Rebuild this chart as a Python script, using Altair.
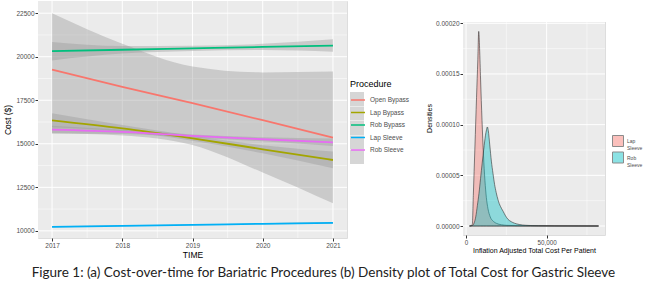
import altair as alt
import pandas as pd

# ---------------- data: panel (a) ----------------
years = [2017, 2018, 2019, 2020, 2021]
procedures = ["Open Bypass", "Lap Bypass", "Rob Bypass", "Lap Sleeve", "Rob Sleeve"]
proc_colors = ["#F8766D", "#A3A500", "#00BF7D", "#00B0F6", "#E76BF3"]

open_bypass_fit = [19265, 18270, 17330, 16355, 15360]
open_bypass_lo = [15600, 15480, 14930, 13350, 11580]
open_bypass_hi = [22500, 20750, 19440, 19100, 19150]

lap_bypass_fit = [16350, 15890, 15316, 14684, 14069]
lap_bypass_lo = [15950, 15700, 15170, 14450, 13590]
lap_bypass_hi = [16750, 16080, 15460, 14920, 14560]

rob_bypass_fit = [20318, 20400, 20480, 20560, 20643]
rob_bypass_lo = [19790, 20180, 20330, 20380, 20280]
rob_bypass_hi = [20850, 20620, 20630, 20740, 21000]

lap_sleeve_fit = [10230, 10290, 10345, 10405, 10460]
lap_sleeve_lo = [10190, 10260, 10320, 10375, 10415]
lap_sleeve_hi = [10270, 10320, 10370, 10435, 10505]

rob_sleeve_fit = [15810, 15680, 15450, 15260, 15086]
rob_sleeve_lo = [15590, 15560, 15360, 15140, 14870]
rob_sleeve_hi = [16040, 15800, 15540, 15380, 15310]

cost_ticks = [10000, 12500, 15000, 17500, 20000, 22500]
cost_minor = [11250, 13750, 16250, 18750, 21250]
year_minor = [2017.5, 2018.5, 2019.5, 2020.5]

# ---------------- data: panel (b) ----------------
density_groups = ["Lap Sleeve", "Rob Sleeve"]
density_colors = ["#F8766D", "#00BFC4"]

lap_cost = [2140, 3200, 3900, 4500, 5500, 6500, 7300, 7850, 8400, 9000, 9900, 10800,
            11700, 12600, 13600, 15000, 17000, 19000, 22000, 26000, 32000, 40000,
            55000, 70000, 82200]
lap_density = [0, 0.0000003, 0.000002, 0.00003, 0.000078, 0.000127, 0.000164, 0.000192,
               0.000175, 0.000145, 0.000104, 0.00007, 0.000045, 0.000028, 0.000017,
               0.000009, 0.0000045, 0.0000025, 0.0000012, 0.0000006, 0.0000003,
               0.0000002, 0.0000001, 0.00000005, 0]

rob_cost = [2140, 4000, 5000, 6000, 7000, 8000, 9000, 10000, 11000, 12000, 12700, 13200,
            13800, 14700, 15700, 16700, 17700, 18700, 19800, 20600, 21300, 22100, 23000,
            24500, 26000, 28000, 30000, 33000, 37000, 45000, 60000, 82200]
rob_density = [0, 0.0000005, 0.000003, 0.000009, 0.00002, 0.000032, 0.000047, 0.000062,
               0.000076, 0.000089, 0.000095, 0.0000977, 0.000094, 0.00008, 0.000064,
               0.000052, 0.000041, 0.000033, 0.000026, 0.000022, 0.0000195, 0.000017,
               0.0000145, 0.00001, 0.0000066, 0.0000043, 0.0000028, 0.0000015,
               0.0000007, 0.0000003, 0.0000001, 0]

density_ticks = [0, 0.00005, 0.0001, 0.00015, 0.0002]
density_minor = [0.000025, 0.000075, 0.000125, 0.000175]
cost_x_ticks = [0, 50000]
cost_x_minor = [25000, 75000]

caption = ("Figure 1: (a) Cost-over-time for Bariatric Procedures "
           "(b) Density plot of Total Cost for Gastric Sleeve")

# ---------------- tables ----------------
series = {
    "Open Bypass": (open_bypass_fit, open_bypass_lo, open_bypass_hi),
    "Lap Bypass": (lap_bypass_fit, lap_bypass_lo, lap_bypass_hi),
    "Rob Bypass": (rob_bypass_fit, rob_bypass_lo, rob_bypass_hi),
    "Lap Sleeve": (lap_sleeve_fit, lap_sleeve_lo, lap_sleeve_hi),
    "Rob Sleeve": (rob_sleeve_fit, rob_sleeve_lo, rob_sleeve_hi),
}
rows = []
for p in procedures:
    fit, lo, hi = series[p]
    for i, yr in enumerate(years):
        rows.append({"Procedure": p, "year": yr, "cost": fit[i], "lo": lo[i], "hi": hi[i]})
df_a = pd.DataFrame(rows)

df_b = pd.concat([
    pd.DataFrame({"group": "Lap Sleeve", "x": lap_cost, "d": lap_density}),
    pd.DataFrame({"group": "Rob Sleeve", "x": rob_cost, "d": rob_density}),
], ignore_index=True)

FONT = "Liberation Sans"
LAB = "#4D4D4D"
TCK = "#333333"
PANEL = "#EBEBEB"

# ---------------- panel (a) ----------------
W_A, H_A = 309, 237
x_scale_a = alt.Scale(domain=[2016.8, 2021.2], nice=False, zero=False)
y_scale_a = alt.Scale(domain=[9590, 23200], nice=False, zero=False)
x_axis_a = alt.Axis(values=years, format="d", title="TIME", grid=False,
                    domain=False, tickSize=3, tickColor=TCK, labelFontSize=6.5,
                    labelColor=LAB, labelFont=FONT, labelPadding=1, titleFont=FONT,
                    titleFontSize=8.5, titleFontWeight="normal", titleColor="black",
                    titlePadding=2)
y_axis_a = alt.Axis(values=cost_ticks, format="d", title="Cost ($)", grid=False,
                    domain=False, tickSize=3, tickColor=TCK,
                    labelFontSize=6.5, labelColor=LAB, labelFont=FONT, labelPadding=1,
                    titleFont=FONT, titleFontSize=8.5, titleFontWeight="normal",
                    titleColor="black", titlePadding=3)

panel_a = alt.Chart(pd.DataFrame({"k": [0]})).mark_rect(color=PANEL).encode(
    x=alt.value(0), x2=alt.value(W_A), y=alt.value(0), y2=alt.value(H_A))


def vrules(values, width, scale, axis):
    return alt.Chart(pd.DataFrame({"year": values})).mark_rule(
        color="white", strokeWidth=width).encode(
        x=alt.X("year:Q", scale=scale, axis=axis))


def hrules(values, width, scale, axis):
    return alt.Chart(pd.DataFrame({"cost": values})).mark_rule(
        color="white", strokeWidth=width).encode(
        y=alt.Y("cost:Q", scale=scale, axis=axis))


grid_a = [
    vrules(year_minor, 0.5, x_scale_a, x_axis_a),
    hrules(cost_minor, 0.5, y_scale_a, y_axis_a),
    vrules(years, 1, x_scale_a, x_axis_a),
    hrules(cost_ticks, 1, y_scale_a, y_axis_a),
]

bands = alt.Chart(df_a).mark_area(opacity=0.4, interpolate="monotone").encode(
    x=alt.X("year:Q", scale=x_scale_a, axis=x_axis_a),
    y=alt.Y("lo:Q", scale=y_scale_a, axis=y_axis_a, stack=None),
    y2="hi:Q",
    fill=alt.Fill("Procedure:N", sort=procedures,
                  scale=alt.Scale(domain=procedures, range=["#999999"] * 5),
                  legend=alt.Legend(orient="none", legendX=312, legendY=79,
                                    title=" ", titleFontSize=9, titleFont=FONT,
                                    titleFontWeight="normal", titlePadding=3,
                                    labelFontSize=6.5, labelFont=FONT, labelOffset=4,
                                    labelExpr="' '",
                                    symbolType="square", symbolSize=196,
                                    symbolStrokeWidth=0, rowPadding=0.5, padding=0)),
    detail="Procedure:N",
)

lines = alt.Chart(df_a).mark_line(strokeWidth=1.8, interpolate="monotone").encode(
    x=alt.X("year:Q", scale=x_scale_a, axis=x_axis_a),
    y=alt.Y("cost:Q", scale=y_scale_a, axis=y_axis_a),
    stroke=alt.Stroke("Procedure:N", sort=procedures,
                      scale=alt.Scale(domain=procedures, range=proc_colors),
                      legend=alt.Legend(orient="none", legendX=312, legendY=79,
                                        title="Procedure", titleFontSize=9, titleFont=FONT,
                                        titleFontWeight="normal", titleColor="black",
                                        titlePadding=3, labelFontSize=6.5, labelFont=FONT,
                                        labelColor=LAB, labelOffset=4,
                                        symbolType="stroke", symbolSize=196,
                                        symbolStrokeWidth=1.5, rowPadding=0.5, padding=0)),
)

left = alt.layer(panel_a, *grid_a, bands, lines).resolve_scale(
    fill="independent", stroke="independent").properties(width=W_A, height=H_A)

# ---------------- panel (b) ----------------
W_B, H_B = 142, 234
TOP_B = 21
x_scale_b = alt.Scale(domain=[-1900, 86200], nice=False, zero=False)
y_scale_b = alt.Scale(domain=[-0.00000888, 0.000222], nice=False, zero=False)
x_axis_b = alt.Axis(values=cost_x_ticks, format=",d",
                    title="Inflation Adjusted Total Cost Per Patient",
                    grid=False, domain=False, tickSize=3, tickColor=TCK, labelFontSize=6.3,
                    labelColor=LAB, labelFont=FONT, labelPadding=1, titleFont=FONT,
                    titleFontSize=7, titleFontWeight="normal", titleColor="black",
                    titlePadding=1)
y_axis_b = alt.Axis(values=density_ticks, format=".5f", title="Densities", grid=False,
                    domain=False, tickSize=3, tickColor=TCK, labelFontSize=6.5,
                    labelColor=LAB, labelFont=FONT, labelPadding=1, titleFont=FONT,
                    titleFontSize=7, titleFontWeight="normal", titleColor="black",
                    titlePadding=3)

panel_b = alt.Chart(pd.DataFrame({"k": [0]})).mark_rect(color=PANEL).encode(
    x=alt.value(0), x2=alt.value(W_B), y=alt.value(TOP_B), y2=alt.value(H_B))
mask_b = alt.Chart(pd.DataFrame({"k": [0]})).mark_rect(color="white").encode(
    x=alt.value(-1.5), x2=alt.value(W_B + 1.5), y=alt.value(-0.5), y2=alt.value(TOP_B))

grid_x_major = alt.Chart(pd.DataFrame({"x": cost_x_ticks})).mark_rule(
    color="white", strokeWidth=1).encode(
    x=alt.X("x:Q", scale=x_scale_b, axis=x_axis_b), y=alt.value(TOP_B), y2=alt.value(H_B))
grid_x_minor = alt.Chart(pd.DataFrame({"x": cost_x_minor})).mark_rule(
    color="white", strokeWidth=0.5).encode(
    x=alt.X("x:Q", scale=x_scale_b, axis=x_axis_b), y=alt.value(TOP_B), y2=alt.value(H_B))
grid_y_major = alt.Chart(pd.DataFrame({"d": density_ticks})).mark_rule(
    color="white", strokeWidth=1).encode(
    y=alt.Y("d:Q", scale=y_scale_b, axis=y_axis_b), x=alt.value(0), x2=alt.value(W_B))
grid_y_minor = alt.Chart(pd.DataFrame({"d": density_minor})).mark_rule(
    color="white", strokeWidth=0.5).encode(
    y=alt.Y("d:Q", scale=y_scale_b, axis=y_axis_b), x=alt.value(0), x2=alt.value(W_B))

dens = alt.Chart(df_b).mark_area(fillOpacity=0.4, stroke="#333333", strokeWidth=0.6,
                                 interpolate="monotone").encode(
    x=alt.X("x:Q", scale=x_scale_b, axis=x_axis_b),
    y=alt.Y("d:Q", scale=y_scale_b, axis=y_axis_b, stack=None),
    fill=alt.Fill("group:N", sort=density_groups,
                  scale=alt.Scale(domain=density_groups, range=density_colors),
                  legend=alt.Legend(orient="none", legendX=149, legendY=134, title=None,
                                    labelFontSize=5, labelFont=FONT, labelColor=LAB,
                                    labelOffset=3, labelExpr="split(datum.label, ' ')",
                                    symbolType="square", symbolSize=121,
                                    symbolOpacity=0.45,
                                    symbolStrokeColor="#000000", symbolStrokeWidth=1,
                                    rowPadding=-1.5, padding=0)),
)

right = alt.layer(panel_b, grid_x_minor, grid_y_minor, grid_x_major, grid_y_major,
                  dens, mask_b).properties(width=W_B, height=H_B)

chart = alt.hconcat(left, right, spacing=14).resolve_scale(
    x="independent", y="independent", fill="independent", stroke="independent"
).properties(
    title=alt.TitleParams(text=caption, orient="bottom", anchor="middle", fontSize=13.5,
                          font="Lato", fontWeight="normal", color="#222222", offset=6),
    padding={"left": 3, "top": 0, "right": 0, "bottom": 0},
).configure_view(stroke=None).configure(background="white")

chart.save("out.html", embed_options={"renderer": "svg", "actions": False})
